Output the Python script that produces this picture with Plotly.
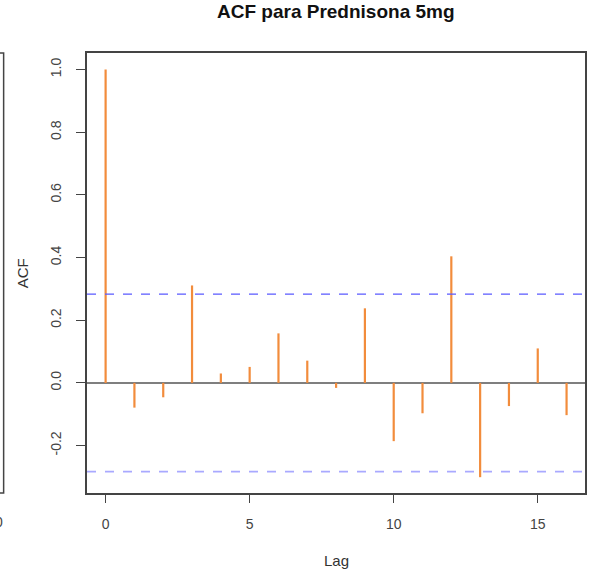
import plotly.graph_objects as go

# ---- data ----
lags = list(range(17))
acf_values = [1.0, -0.079, -0.046, 0.311, 0.030, 0.051, 0.158, 0.071, -0.016,
              0.238, -0.186, -0.097, 0.404, -0.301, -0.074, 0.110, -0.103]
conf_limit = 0.283
x_ticks = [0, 5, 10, 15]
y_ticks = [-0.2, 0.0, 0.2, 0.4, 0.6, 0.8, 1.0]
title_text = "ACF para Prednisona 5mg"

# ---- layout geometry (pixels) ----
W, H = 597, 577
L, R, T, B = 87, 10, 53, 84
plot_w = W - L - R
plot_h = H - T - B

def px_x(px):
    return (px - L) / plot_w

def px_y(py):
    return (H - B - py) / plot_h

seg_x, seg_y = [], []
for lag, v in zip(lags, acf_values):
    seg_x += [lag, lag, None]
    seg_y += [0, v, None]

fig = go.Figure()
fig.add_trace(go.Scatter(x=seg_x, y=seg_y, mode="lines",
                         line=dict(color="#F28C3C", width=2.2),
                         hoverinfo="skip", showlegend=False))

font_family = "Liberation Sans, Arial, sans-serif"

shapes = [
    dict(type="line", xref="paper", yref="y", x0=0, x1=1, y0=0, y1=0,
         line=dict(color="#555555", width=1.5), layer="below"),
    dict(type="line", xref="paper", yref="y", x0=0, x1=1, y0=conf_limit, y1=conf_limit,
         line=dict(color="#5a5aff", width=1.3, dash="dash")),
    dict(type="line", xref="paper", yref="y", x0=0, x1=1, y0=-conf_limit, y1=-conf_limit,
         line=dict(color="#a9a9ff", width=1.8, dash="dash")),
    # edge of neighbouring panel on the left
    dict(type="rect", xref="paper", yref="paper", x0=px_x(-10), x1=px_x(3.3), y0=0, y1=1,
         line=dict(color="#444444", width=1.5)),
]

annotations = [
    dict(text="<b>" + title_text + "</b>", xref="paper", yref="paper",
         x=0.5, y=px_y(12), xanchor="center", yanchor="middle", showarrow=False,
         font=dict(family=font_family, size=19, color="#111111")),
    dict(text="Lag", xref="paper", yref="paper", x=0.5, y=px_y(560),
         xanchor="center", yanchor="middle", showarrow=False,
         font=dict(family=font_family, size=15, color="#333333")),
    dict(text="ACF", xref="paper", yref="paper", x=px_x(22), y=0.5, textangle=-90,
         xanchor="center", yanchor="middle", showarrow=False,
         font=dict(family=font_family, size=15, color="#333333")),
    dict(text="0", xref="paper", yref="paper", x=px_x(-1), y=px_y(522),
         xanchor="center", yanchor="middle", showarrow=False,
         font=dict(family=font_family, size=14, color="#444444")),
]

fig.update_layout(
    width=W, height=H,
    margin=dict(l=L, r=R, t=T, b=B),
    paper_bgcolor="white", plot_bgcolor="white",
    shapes=shapes, annotations=annotations,
    font=dict(family=font_family, size=14, color="#444444"),
    xaxis=dict(range=[-0.646, 16.64], tickvals=x_ticks, ticktext=[str(t) for t in x_ticks],
               showgrid=False, zeroline=False, showline=True, mirror=True,
               linecolor="#444444", linewidth=1.5, ticks="outside", ticklen=8,
               tickcolor="#444444", tickwidth=1.2, ticklabelstandoff=9),
    yaxis=dict(range=[-0.3515, 1.053], tickvals=y_ticks,
               ticktext=["-0.2", "0.0", "0.2", "0.4", "0.6", "0.8", "1.0"],
               tickangle=-90,
               showgrid=False, zeroline=False, showline=True, mirror=True,
               linecolor="#444444", linewidth=1.5, ticks="outside", ticklen=9,
               tickcolor="#444444", tickwidth=1.2, ticklabelstandoff=10),
)

fig.write_html("out.html")
